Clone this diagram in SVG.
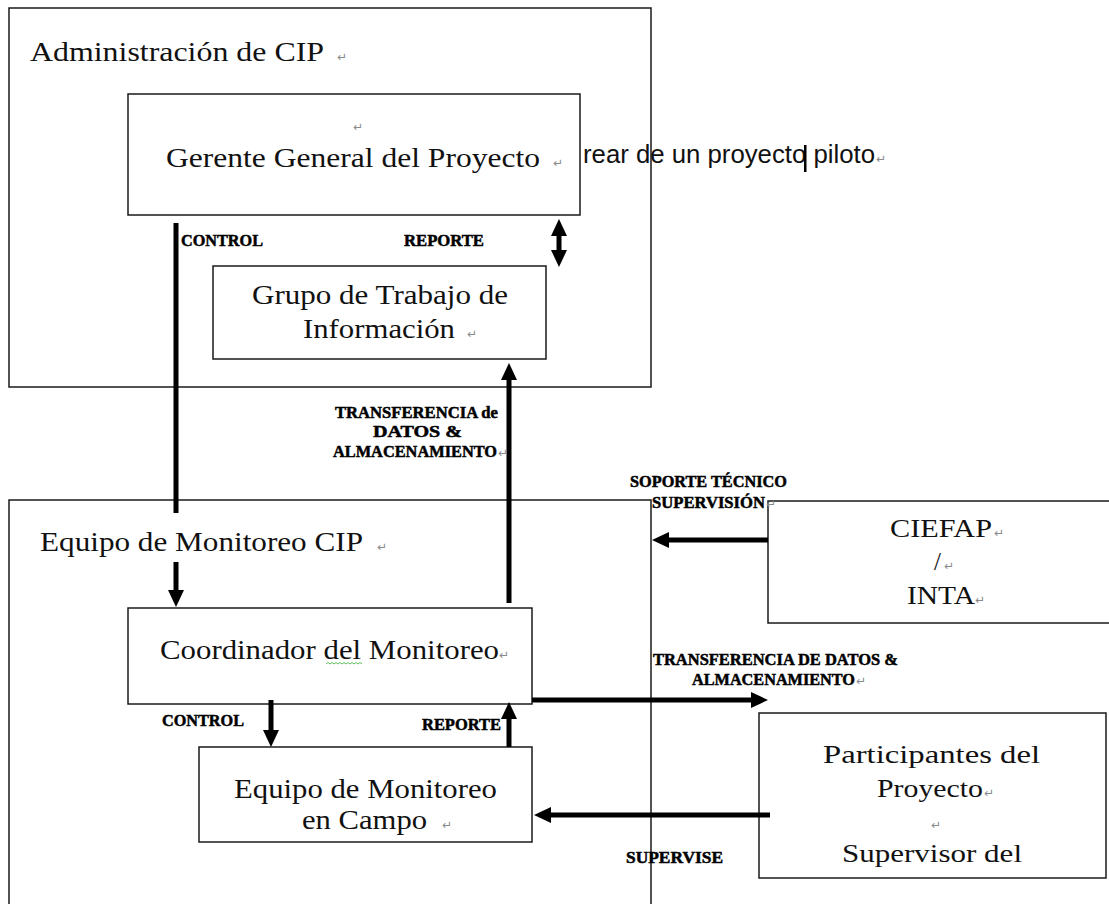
<svg xmlns="http://www.w3.org/2000/svg" width="1109" height="904" viewBox="0 0 1109 904">
<style>
.box{fill:none;stroke:#1a1a1a;stroke-width:1.5}
.frame{fill:none;stroke:#1a1a1a;stroke-width:1.5}
.t{font-family:"Liberation Serif","Times New Roman",serif;font-size:28px;fill:#111}
.ts{font-family:"Liberation Serif","Times New Roman",serif;font-size:25px;fill:#111}
.lb{font-family:"Liberation Serif","Times New Roman",serif;font-size:16.5px;font-weight:bold;fill:#000;stroke:#000;stroke-width:0.5}
.pm{font-family:"DejaVu Sans",sans-serif;font-size:12px;fill:#8a8a8a}
.sans{font-family:"Liberation Sans",Arial,sans-serif;font-size:25px;fill:#111}
.conn{stroke:#000;stroke-width:5;fill:none}
</style>
<defs>
<marker id="ah" markerUnits="userSpaceOnUse" markerWidth="18" markerHeight="18" refX="1" refY="8" orient="auto-start-reverse">
<path d="M0,0 L17,8 L0,16 z" fill="#000"/>
</marker>
</defs>
<rect width="1109" height="904" fill="#fff"/>

<g id="admin-cip">
<rect class="frame" x="9" y="8" width="642" height="379"/>
<text class="t" x="30" y="61" textLength="294" lengthAdjust="spacingAndGlyphs">Administración de CIP</text>
<text class="pm" x="337" y="61">↵</text>
</g>

<g id="gerente">
<rect class="box" x="128" y="94" width="452" height="121"/>
<text class="pm" x="353" y="131">↵</text>
<text class="t" x="166" y="167" textLength="374" lengthAdjust="spacingAndGlyphs">Gerente General del Proyecto</text>
<text class="pm" x="553" y="167">↵</text>
</g>

<g id="nota">
<text class="sans" x="583" y="163" textLength="292" lengthAdjust="spacingAndGlyphs">rear de un proyecto piloto</text>
<text class="pm" x="876" y="163">↵</text>
<rect x="804" y="145" width="2.5" height="27" fill="#000"/>
</g>

<g id="grupo">
<rect class="box" x="213" y="266" width="333" height="93"/>
<text class="t" x="252" y="304" textLength="256" lengthAdjust="spacingAndGlyphs">Grupo de Trabajo de</text>
<text class="t" x="303" y="338" textLength="152" lengthAdjust="spacingAndGlyphs">Información</text>
<text class="pm" x="467" y="338">↵</text>
</g>

<g id="equipo-cip">
<rect class="frame" x="9" y="500" width="642" height="420"/>
<text class="t" x="40" y="551" textLength="323" lengthAdjust="spacingAndGlyphs">Equipo de Monitoreo CIP</text>
<text class="pm" x="377" y="551">↵</text>
</g>

<g id="coordinador">
<rect class="box" x="128" y="608" width="404" height="96"/>
<text class="t" x="160" y="659" textLength="339" lengthAdjust="spacingAndGlyphs">Coordinador del Monitoreo</text>
<text class="pm" x="499" y="659">↵</text>
<path d="M326,664 l2,-1.5 l2,1.5 l2,-1.5 l2,1.5 l2,-1.5 l2,1.5 l2,-1.5 l2,1.5 l2,-1.5 l2,1.5 l2,-1.5 l2,1.5 l2,-1.5 l2,1.5 l2,-1.5 l2,1.5 l2,-1.5 l2,1.5" fill="none" stroke="#3a3" stroke-width="0.8"/>
</g>

<g id="equipo-campo">
<rect class="box" x="199" y="747" width="333" height="95"/>
<text class="t" x="234" y="798" textLength="263" lengthAdjust="spacingAndGlyphs">Equipo de Monitoreo</text>
<text class="t" x="302" y="829" textLength="125" lengthAdjust="spacingAndGlyphs">en Campo</text>
<text class="pm" x="442" y="829">↵</text>
</g>

<g id="ciefap">
<rect class="box" x="768" y="501" width="360" height="122"/>
<text class="ts" x="890" y="537" textLength="102" lengthAdjust="spacingAndGlyphs">CIEFAP</text>
<text class="pm" x="994" y="537">↵</text>
<text class="ts" x="934" y="570">/</text>
<text class="pm" x="944" y="570">↵</text>
<text class="ts" x="907" y="604" textLength="68" lengthAdjust="spacingAndGlyphs">INTA</text>
<text class="pm" x="975" y="604">↵</text>
</g>

<g id="participantes">
<rect class="box" x="759" y="713" width="347" height="165"/>
<text class="ts" x="823" y="763" textLength="217" lengthAdjust="spacingAndGlyphs">Participantes del</text>
<text class="ts" x="877" y="797" textLength="106" lengthAdjust="spacingAndGlyphs">Proyecto</text>
<text class="pm" x="984" y="797">↵</text>
<text class="pm" x="931" y="829">↵</text>
<text class="ts" x="842" y="862" textLength="180" lengthAdjust="spacingAndGlyphs">Supervisor del</text>
</g>

<g id="connectors">
<line class="conn" x1="176" y1="223" x2="176" y2="513"/>
<line class="conn" x1="176" y1="562" x2="176" y2="591" marker-end="url(#ah)"/>
<line class="conn" x1="559" y1="235" x2="559" y2="251" marker-start="url(#ah)" marker-end="url(#ah)"/>
<line class="conn" x1="509" y1="603" x2="509" y2="379" marker-end="url(#ah)"/>
<line class="conn" x1="271" y1="700" x2="271" y2="731" marker-end="url(#ah)"/>
<line class="conn" x1="509" y1="747" x2="509" y2="718" marker-end="url(#ah)"/>
<line class="conn" x1="532" y1="700" x2="752" y2="700" marker-end="url(#ah)"/>
<line class="conn" x1="770" y1="815" x2="550" y2="815" marker-end="url(#ah)"/>
<line class="conn" x1="768" y1="540" x2="668" y2="540" marker-end="url(#ah)"/>
<text class="lb" x="181" y="246" textLength="82" lengthAdjust="spacingAndGlyphs">CONTROL</text>
<text class="lb" x="404" y="246" textLength="80" lengthAdjust="spacingAndGlyphs">REPORTE</text>
<text class="lb" x="335" y="418" textLength="163" lengthAdjust="spacingAndGlyphs">TRANSFERENCIA de</text>
<text class="lb" x="373" y="437" textLength="89" lengthAdjust="spacingAndGlyphs">DATOS &amp;</text>
<text class="lb" x="333" y="457" textLength="164" lengthAdjust="spacingAndGlyphs">ALMACENAMIENTO</text>
<text class="pm" x="498" y="457">↵</text>
<text class="lb" x="630" y="487" textLength="157" lengthAdjust="spacingAndGlyphs">SOPORTE TÉCNICO</text>
<text class="lb" x="652" y="508" textLength="113" lengthAdjust="spacingAndGlyphs">SUPERVISIÓN</text>
<text class="pm" x="766" y="508">↵</text>
<text class="lb" x="162" y="726" textLength="82" lengthAdjust="spacingAndGlyphs">CONTROL</text>
<text class="lb" x="422" y="730" textLength="79" lengthAdjust="spacingAndGlyphs">REPORTE</text>
<text class="lb" x="653" y="665" textLength="245" lengthAdjust="spacingAndGlyphs">TRANSFERENCIA DE DATOS &amp;</text>
<text class="lb" x="692" y="685" textLength="163" lengthAdjust="spacingAndGlyphs">ALMACENAMIENTO</text>
<text class="pm" x="856" y="685">↵</text>
<text class="lb" x="626" y="863" textLength="97" lengthAdjust="spacingAndGlyphs">SUPERVISE</text>
</g>
</svg>
